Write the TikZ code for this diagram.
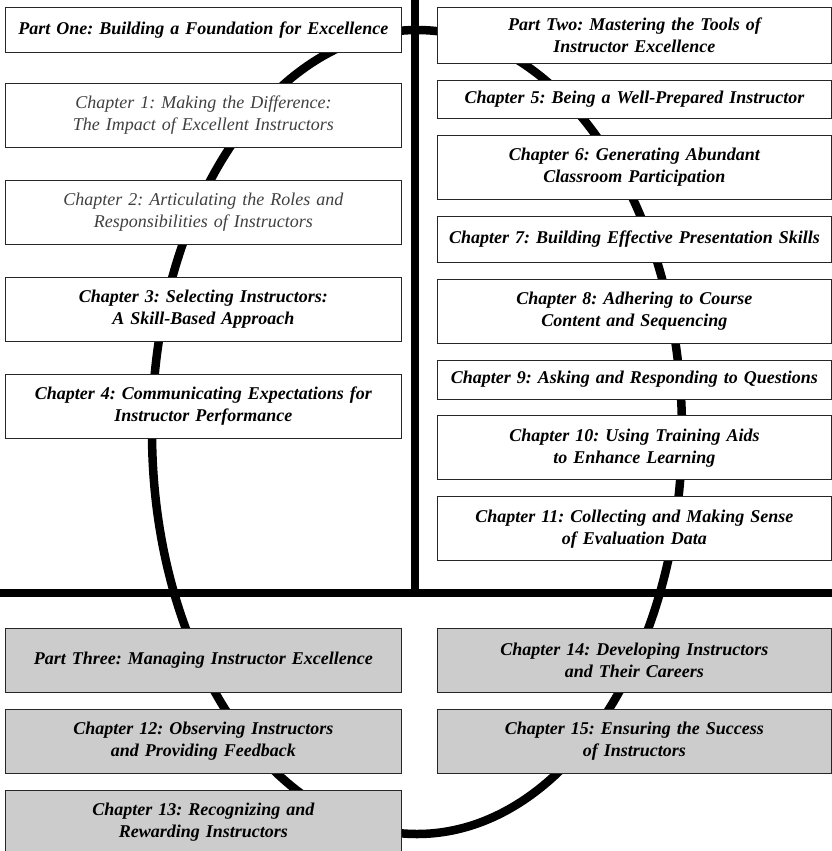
\documentclass[tikz,border=0pt]{standalone}
\usepackage{fontspec}
\setmainfont{Liberation Serif}
\frenchspacing
\usetikzlibrary{positioning}
\tikzset{
    chapbox/.style={rectangle,draw=black!85,line width=0.9pt,fill=white,align=center,text width=390pt,minimum width=396pt,minimum height=64pt,inner sep=0pt,font=\bfseries\itshape\fontsize{18}{22}\selectfont},
    rightbox/.style={chapbox,minimum width=394pt},
    lightbox/.style={font=\itshape\fontsize{18}{22}\selectfont,text=black!75},
    greybox/.style={fill=black!20},
    ringline/.style={line width=8.5pt},
    splitline/.style={line width=8pt}
}
\begin{document}
\begin{tikzpicture}[x=1pt,y=-1pt,node distance=16pt]
            \useasboundingbox (0,0) rectangle (832,851);
            \draw[ringline] (417,432) ellipse [x radius=265pt,y radius=402pt];
            \draw[splitline] (415,0) -- (415,597);
            \draw[splitline] (0,593) -- (832,593);
            % part one
            \node[chapbox,minimum height=45pt,anchor=north west] (partone) at (5,7) {Part One: Building a Foundation for Excellence};
            \node[chapbox,lightbox,below=30pt of partone] (chone) {Chapter 1: Making the Difference:\\The Impact of Excellent Instructors};
            \node[chapbox,lightbox,below=32pt of chone] (chtwo) {Chapter 2: Articulating the Roles and\\Responsibilities of Instructors};
            \node[chapbox,below=32pt of chtwo] (chthree) {Chapter 3: Selecting Instructors:\\A Skill-Based Approach};
            \node[chapbox,below=32pt of chthree] (chfour) {Chapter 4: Communicating Expectations for\\Instructor Performance};
            % part two
            \node[rightbox,minimum height=56pt,anchor=north west] (parttwo) at (437,7) {Part Two: Mastering the Tools of\\Instructor Excellence};
            \node[rightbox,minimum height=38pt,below=of parttwo] (chfive) {Chapter 5: Being a Well-Prepared Instructor};
            \node[rightbox,below=of chfive] (chsix) {Chapter 6: Generating Abundant\\Classroom Participation};
            \node[rightbox,minimum height=46pt,below=of chsix] (chseven) {Chapter 7: Building Effective Presentation Skills};
            \node[rightbox,below=of chseven] (cheight) {Chapter 8: Adhering to Course\\Content and Sequencing};
            \node[rightbox,minimum height=39pt,below=of cheight] (chnine) {Chapter 9: Asking and Responding to Questions};
            \node[rightbox,below=of chnine] (chten) {Chapter 10: Using Training Aids\\to Enhance Learning};
            \node[rightbox,below=of chten] (cheleven) {Chapter 11: Collecting and Making Sense\\of Evaluation Data};
            % part three
            \node[chapbox,greybox,anchor=north west] (partthree) at (5,628) {Part Three: Managing Instructor Excellence};
            \node[chapbox,greybox,below=of partthree] (chtwelve) {Chapter 12: Observing Instructors\\and Providing Feedback};
            \node[chapbox,greybox,minimum height=63pt,below=of chtwelve] (chthirteen) {Chapter 13: Recognizing and\\Rewarding Instructors};
            \node[rightbox,greybox,anchor=north west] (chfourteen) at (437,628) {Chapter 14: Developing Instructors\\and Their Careers};
            \node[rightbox,greybox,below=of chfourteen] (chfifteen) {Chapter 15: Ensuring the Success\\of Instructors};
        \end{tikzpicture}
\end{document}
